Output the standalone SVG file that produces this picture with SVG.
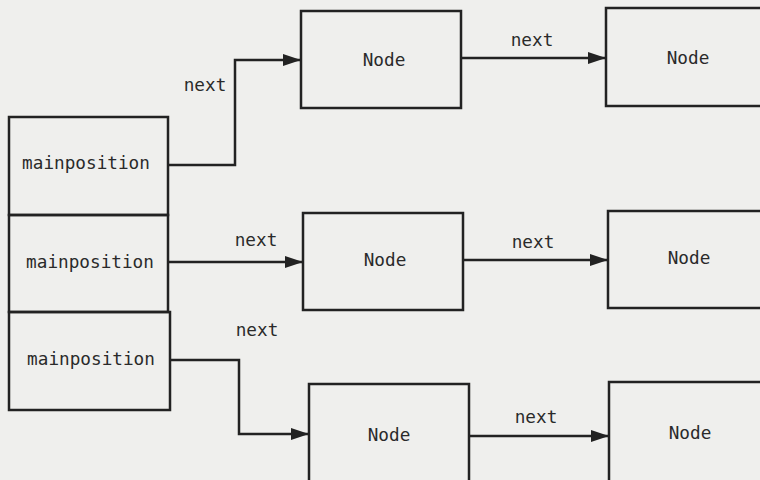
<svg xmlns="http://www.w3.org/2000/svg" width="760" height="480" viewBox="0 0 760 480">
<style>
.box{fill:none;stroke:#222;stroke-width:2.5}
.t{font-family:"DejaVu Sans Mono","Liberation Mono",monospace;font-size:17.7px;fill:#2a2a2a;text-anchor:middle;dominant-baseline:central}
.c{fill:none;stroke:#222;stroke-width:2.5}
</style>
<defs>
<marker id="ah2" markerWidth="18" markerHeight="12" refX="18" refY="6" orient="auto" markerUnits="userSpaceOnUse" viewBox="0 0 18 12">
<path d="M0,0 L18,6 L0,12 z" fill="#222"/>
</marker>
</defs>
<rect width="760" height="480" fill="#efefed"/>
<g id="slot1"><rect class="box" x="9" y="117" width="159" height="98"/><text class="t" x="86" y="163">mainposition</text></g>
<g id="slot2"><rect class="box" x="9" y="215" width="159" height="97"/><text class="t" x="90" y="262">mainposition</text></g>
<g id="slot3"><rect class="box" x="9" y="312" width="161" height="98"/><text class="t" x="91" y="359">mainposition</text></g>
<g id="n1a"><rect class="box" x="301" y="11" width="160" height="97"/><text class="t" x="384" y="60">Node</text></g>
<g id="n1b"><rect class="box" x="606" y="8" width="170" height="98"/><text class="t" x="688" y="58">Node</text></g>
<g id="n2a"><rect class="box" x="303" y="213" width="160" height="97"/><text class="t" x="385" y="260">Node</text></g>
<g id="n2b"><rect class="box" x="608" y="211" width="170" height="97"/><text class="t" x="689" y="258">Node</text></g>
<g id="n3a"><rect class="box" x="309" y="384" width="160" height="110"/><text class="t" x="389" y="435">Node</text></g>
<g id="n3b"><rect class="box" x="609" y="382" width="170" height="110"/><text class="t" x="690" y="433">Node</text></g>
<g id="connectors">
<polyline class="c" points="168,165 235,165 235,60 301,60" marker-end="url(#ah2)"/>
<text class="t" x="205" y="85">next</text>
<line class="c" x1="461" y1="58" x2="606" y2="58" marker-end="url(#ah2)"/>
<text class="t" x="532" y="40">next</text>
<line class="c" x1="168" y1="262" x2="303" y2="262" marker-end="url(#ah2)"/>
<text class="t" x="256" y="240">next</text>
<line class="c" x1="463" y1="260" x2="608" y2="260" marker-end="url(#ah2)"/>
<text class="t" x="533" y="242">next</text>
<polyline class="c" points="170,360 239,360 239,434 309,434" marker-end="url(#ah2)"/>
<text class="t" x="257" y="330">next</text>
<line class="c" x1="469" y1="436" x2="609" y2="436" marker-end="url(#ah2)"/>
<text class="t" x="536" y="417">next</text>
</g>
</svg>
